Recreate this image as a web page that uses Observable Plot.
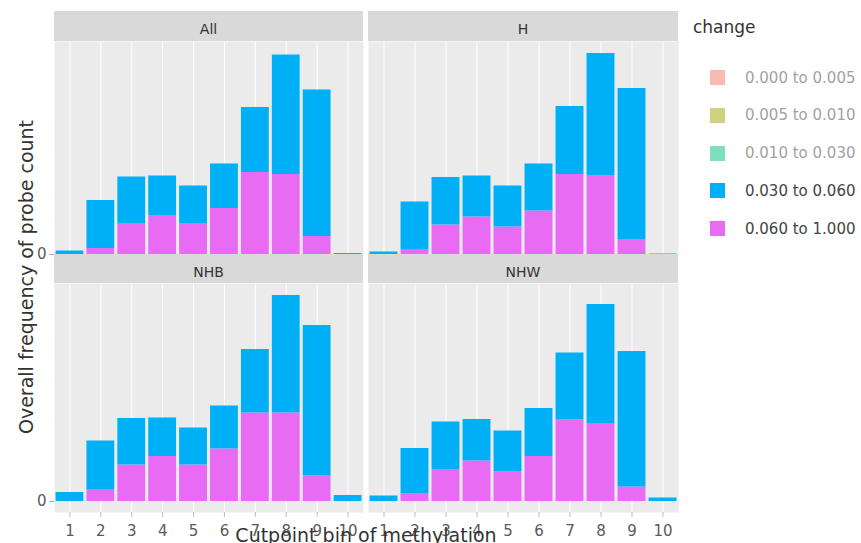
<!DOCTYPE html>
<html>
<head>
<meta charset="utf-8">
<script src="https://cdn.jsdelivr.net/npm/d3@7"></script>
<script src="https://cdn.jsdelivr.net/npm/@observablehq/plot@0.6"></script>
<style>
  html, body { margin: 0; padding: 0; background: #fff; }
  #chart { position: relative; width: 861px; height: 543px; font-family: "DejaVu Sans", Verdana, sans-serif; overflow: hidden; }
  .abs { position: absolute; }
  .strip { position: absolute; background: #D9D9D9; color: #333; font-size: 14px; text-align: center; z-index: 2; box-sizing: border-box; }
  .legend-item { position: absolute; display: flex; align-items: center; font-size: 15px; white-space: nowrap; }
  .legend-item .sw { width: 15px; height: 15px; margin-right: 20px; flex: none; }
</style>
</head>
<body>
<div id="chart"></div>
<script>
// Cutpoint bins of methylation (x axis)
const bins = ["1", "2", "3", "4", "5", "6", "7", "8", "9", "10"];

// Change categories, their colours, and which ones are switched off in the legend
const changeLevels = ["0.000 to 0.005", "0.005 to 0.010", "0.010 to 0.030", "0.030 to 0.060", "0.060 to 1.000"];
const changeColors = ["#F8766D", "#A3A500", "#00BF7D", "#00B0F6", "#E76BF3"];
const hiddenLevels = ["0.000 to 0.005", "0.005 to 0.010", "0.010 to 0.030"];

// Population groups (facets)
const groups = ["All", "H", "NHB", "NHW"];

// Probe counts per bin for the two visible change categories
const allHigh = [0, 60, 310, 390, 310, 460, 820, 800, 180, 0];         // 0.060 to 1.000
const allMid  = [35, 480, 465, 395, 375, 445, 650, 1195, 1465, 10];    // 0.030 to 0.060
const hHigh   = [0, 50, 295, 375, 275, 435, 800, 785, 145, 0];
const hMid    = [25, 475, 475, 410, 410, 470, 680, 1225, 1515, 5];
const nhbHigh = [0, 120, 365, 450, 365, 525, 885, 885, 255, 0];
const nhbMid  = [90, 485, 465, 385, 370, 430, 635, 1175, 1505, 60];
const nhwHigh = [0, 80, 320, 405, 295, 450, 815, 780, 145, 0];
const nhwMid  = [55, 450, 475, 415, 410, 480, 670, 1190, 1355, 35];

const series = {
  "All": {high: allHigh, mid: allMid},
  "H":   {high: hHigh, mid: hMid},
  "NHB": {high: nhbHigh, mid: nhbMid},
  "NHW": {high: nhwHigh, mid: nhwMid}
};

// Long-format rows; the 0.060–1.000 category comes first so it sits at the bottom of each stack
function rowsFor(group) {
  const s = series[group];
  const rows = [];
  bins.forEach((b, i) => rows.push({bin: b, change: "0.060 to 1.000", count: s.high[i]}));
  bins.forEach((b, i) => rows.push({bin: b, change: "0.030 to 0.060", count: s.mid[i]}));
  return rows;
}

const chart = document.getElementById("chart");

// Panel layout (pixels)
const colLeft = [54, 368];
const panelW = [309, 310];
const rowTop = [41, 283];
const panelH = [213, 229];
const stripTop = [11, 254];
const yDomains = [[0, 2130], [-110, 2180]];

function drawPanel(group, col, row) {
  const bottomRow = row === 1;
  const leftCol = col === 0;
  const mLeft = leftCol ? 54 : 0;
  const mBottom = bottomRow ? 31 : 10;
  const svg = Plot.plot({
    width: mLeft + panelW[col],
    height: panelH[row] + mBottom,
    marginLeft: mLeft,
    marginRight: 0,
    marginTop: 0,
    marginBottom: mBottom,
    style: {fontFamily: "DejaVu Sans, Verdana, sans-serif", fontSize: "15px", color: "#5a5a5a", background: "transparent", overflow: "visible"},
    x: {type: "band", domain: bins, paddingInner: 0.1, paddingOuter: 0.05, round: false, axis: null},
    y: {domain: yDomains[row], axis: null},
    color: {domain: changeLevels, range: changeColors},
    marks: [
      Plot.frame({fill: "#EBEBEB", stroke: null}),
      Plot.gridX({stroke: "white", strokeOpacity: 1, strokeWidth: 1}),
      Plot.barY(rowsFor(group), {x: "bin", y: "count", fill: "change"}),
      leftCol ? Plot.axisY({ticks: [0], tickSize: 5, tickPadding: 3, label: null, stroke: "#aaa", fill: "#5a5a5a"}) : null,
      bottomRow ? Plot.axisX({tickSize: 5, tickPadding: 8, label: null, stroke: "#bbb", fill: "#5a5a5a"}) : null
    ]
  });
  svg.classList.add("abs");
  svg.style.left = (leftCol ? 0 : colLeft[col]) + "px";
  svg.style.top = rowTop[row] + "px";
  chart.appendChild(svg);

  // Facet strip
  const h = rowTop[row] - stripTop[row];
  const strip = document.createElement("div");
  strip.className = "strip";
  strip.textContent = group;
  strip.style.left = colLeft[col] + "px";
  strip.style.width = panelW[col] + "px";
  strip.style.top = stripTop[row] + "px";
  strip.style.height = h + "px";
  strip.style.lineHeight = h + "px";
  strip.style.paddingTop = (row === 0 ? 7 : 7) + "px";
  strip.style.lineHeight = (h - 7) + "px";
  chart.appendChild(strip);
}

groups.forEach((g, i) => drawPanel(g, i % 2, Math.floor(i / 2)));

// Axis titles, drawn in an overlay SVG so their baselines can be set exactly
const overlay = d3.select(chart).append("svg")
  .attr("class", "abs")
  .attr("width", 861).attr("height", 543)
  .style("left", "0px").style("top", "0px")
  .style("z-index", 3)
  .style("pointer-events", "none")
  .style("font-family", "DejaVu Sans, Verdana, sans-serif");

overlay.append("text")
  .attr("transform", "translate(33,277) rotate(-90)")
  .attr("text-anchor", "middle")
  .attr("font-size", 19)
  .attr("fill", "#333")
  .text("Overall frequency of probe count");

overlay.append("text")
  .attr("x", 366).attr("y", 542)
  .attr("text-anchor", "middle")
  .attr("font-size", 19)
  .attr("fill", "#333")
  .text("Cutpoint bin of methylation");

// Legend
const legTitle = document.createElement("div");
legTitle.className = "abs";
legTitle.textContent = "change";
Object.assign(legTitle.style, {left: "693px", top: "17px", fontSize: "17px", color: "#333"});
chart.appendChild(legTitle);

changeLevels.forEach((lvl, i) => {
  const item = document.createElement("div");
  item.className = "legend-item";
  const off = hiddenLevels.includes(lvl);
  item.style.left = "710px";
  item.style.top = (70 + i * 37.75) + "px";
  item.style.height = "15px";
  item.style.opacity = off ? 0.5 : 1;
  item.style.color = "#444";
  const sw = document.createElement("div");
  sw.className = "sw";
  sw.style.background = changeColors[i];
  const label = document.createElement("span");
  label.textContent = lvl;
  item.appendChild(sw);
  item.appendChild(label);
  chart.appendChild(item);
});
</script>
</body>
</html>
